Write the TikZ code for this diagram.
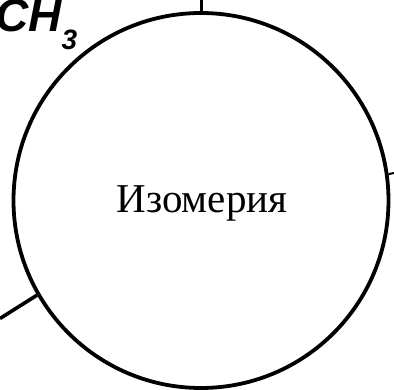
\documentclass[tikz,border=0pt]{standalone}
\usepackage{fontspec}
\setmainfont{Liberation Serif}
\newfontfamily\chemfont{Liberation Sans}
\usepackage{tikz}
\usetikzlibrary{positioning,calc}

\begin{document}
\begin{tikzpicture}[x=1pt,y=-1pt,
  ring/.style={draw,circle,line width=3.8pt,minimum size=375pt,inner sep=0pt},
  lbl/.style={font=\fontsize{41}{41}\selectfont,inner sep=0pt},
  formula/.style={font=\chemfont\bfseries\itshape\fontsize{46}{46}\selectfont,inner sep=0pt},
  wire/.style={line width=3pt}]
\useasboundingbox (0,0) rectangle (394,390);
\node[ring] (izo) at (201,200.5) {};
\node[lbl,anchor=base] (name) at (202,213) {Изомерия};
\node[formula,anchor=base west] (ch3) at (-5,32) {CH\raisebox{-18pt}{\fontsize{28}{28}\selectfont 3}};
\coordinate (topend) at (201,0);
\coordinate (rightend) at (394,173);
\coordinate (leftend) at (0,318.5);
\draw[wire] (izo.north) -- (topend);
\draw[wire,line width=2pt] (izo.8.4) -- (rightend);
\draw[wire,line width=3.6pt] (izo.210.4) -- (leftend);
\end{tikzpicture}
\end{document}
